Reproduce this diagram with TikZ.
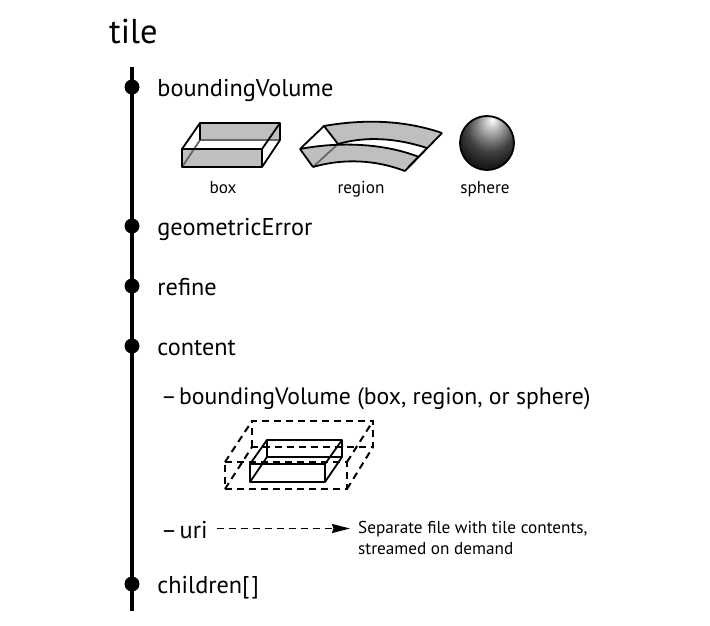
\documentclass[tikz,border=0pt]{standalone}
\usepackage{fontspec}
\setmainfont{PT Sans}
\usetikzlibrary{positioning,arrows.meta}
\pgfdeclareradialshading{spherelight}{\pgfpoint{5bp}{22bp}}{
  color(0bp)=(white);
  color(6bp)=(black!22);
  color(14bp)=(black!50);
  color(22bp)=(black!75);
  color(32bp)=(black!90);
  color(60bp)=(black!88)}
\begin{document}
\begin{tikzpicture}
[x=1pt,y=-1pt,>={Stealth[length=18pt,width=9pt,inset=1.5pt]},
 fieldname/.style={inner sep=0pt,text height=21pt,text depth=2pt,font=\fontsize{24.3}{28}\selectfont},
 caption/.style={inner sep=0pt,text height=12pt,text depth=3pt,font=\fontsize{17.2}{21}\selectfont},
 dot/.style={shape=circle,fill=black,inner sep=0pt,minimum size=15pt},
 edge/.style={line width=1.8pt,line join=round},
 dashedge/.style={line width=2pt,dash pattern=on 7pt off 5pt},
 greyface/.style={fill=black!25}]
\useasboundingbox (0,0) rectangle (710,626);
\fill[white] (0,0) rectangle (710,626);
\coordinate (top) at (132,67);
\coordinate (bottom) at (132,611);
\draw[line width=3.6pt] (top) -- (bottom);
\node[inner sep=0pt,font=\fontsize{34.5}{38}\selectfont] (title) at (133.5,31) {tile};
\node[dot] (d1) at (132,87) {};
\node[dot] (d2) at (132,226) {};
\node[dot] (d3) at (132,286) {};
\node[dot] (d4) at (132,346) {};
\node[dot] (d5) at (132,584) {};
\node[fieldname] (bv) [right=17.5pt of d1] {boundingVolume};
\node[fieldname] (ge) [right=17.5pt of d2] {geometricError};
\node[fieldname] (re) [right=17.5pt of d3] {refine};
\node[fieldname] (co) [right=17.5pt of d4] {content};
\node[fieldname] (ch) [right=17.5pt of d5] {children[\hspace{-4.5pt} ]};
\node[fieldname,font=\fontsize{23.7}{28}\selectfont,anchor=west] (cb) at (161,394.5) {–\hspace{-4pt} boundingVolume (box, region, or sphere)};
\node[fieldname,anchor=west] (ur) at (161,528.5) {–\hspace{-4pt} uri};
\node[inner sep=0pt,font=\fontsize{17.2}{21}\selectfont,anchor=west,align=left] (se) at (358,538)
  {Separate file with tile contents,\\streamed on demand};
\draw[->,line width=1.8pt,dash pattern=on 7pt off 5pt,shorten <=9pt,shorten >=8pt] (ur.east) -- (ur.east -| se.west);
\node[caption] (cbox) at (223,188.5) {box};
\node[caption] (creg) at (361,188.5) {region};
\node[caption] (csph) at (485,188.5) {sphere};
\fill[greyface] (200,123) -- (280,123) -- (280,140) -- (200,140) -- cycle;
\fill[greyface] (182,149) -- (262,149) -- (262,167) -- (182,167) -- cycle;
\draw[edge,black!60] (182,167) -- (200,140) -- (280,140);
\draw[edge] (182,149) -- (262,149) -- (262,167) -- (182,167) -- cycle;
\draw[edge] (200,140) -- (200,123) -- (280,123) -- (280,140);
\draw[edge] (182,149) -- (200,123);
\draw[edge] (262,149) -- (280,123);
\draw[edge] (262,167) -- (280,140);
\fill[greyface] (324,126) .. controls (364,119) and (404,120) .. (442,133)
  -- (427,148) .. controls (396,138) and (366,136) .. (338,144) -- cycle;
\fill[greyface] (300,149) .. controls (342,141) and (386,144) .. (419,157)
  -- (405,171) .. controls (376,160) and (344,158) .. (313,167) -- cycle;
\draw[edge,black!60] (313,167) -- (338,144);
\draw[edge] (300,149) -- (324,126) -- (338,144);
\draw[edge] (300,149) -- (313,167);
\draw[edge] (324,126) .. controls (364,119) and (404,120) .. (442,133);
\draw[edge] (338,144) .. controls (366,136) and (396,138) .. (427,148);
\draw[edge] (300,149) .. controls (342,141) and (386,144) .. (419,157);
\draw[edge] (313,167) .. controls (344,158) and (376,160) .. (405,171);
\draw[edge] (442,133) -- (405,171);
\draw[line width=1.2pt] (427,148) -- (408,167);
\shade[shading=spherelight] (487,143) circle (27);
\draw[line width=1.8pt] (487,143) circle (27);
\draw[dashedge] (225,462) -- (347,462) -- (347,489) -- (225,489) -- cycle;
\draw[dashedge] (252,447) -- (252,421) -- (373,421) -- (373,447) -- (252,447);
\draw[dashedge] (225,462) -- (252,421);
\draw[dashedge] (347,462) -- (373,421);
\draw[dashedge] (225,489) -- (252,447);
\draw[dashedge] (347,489) -- (373,447);
\draw[edge] (250,464) -- (325,464) -- (325,482) -- (250,482) -- cycle;
\draw[edge] (267,457) -- (267,440) -- (342,440) -- (342,457) -- cycle;
\draw[edge] (250,464) -- (267,440);
\draw[edge] (325,464) -- (342,440);
\draw[edge] (250,482) -- (267,457);
\draw[edge] (325,482) -- (342,457);
\end{tikzpicture}
\end{document}
